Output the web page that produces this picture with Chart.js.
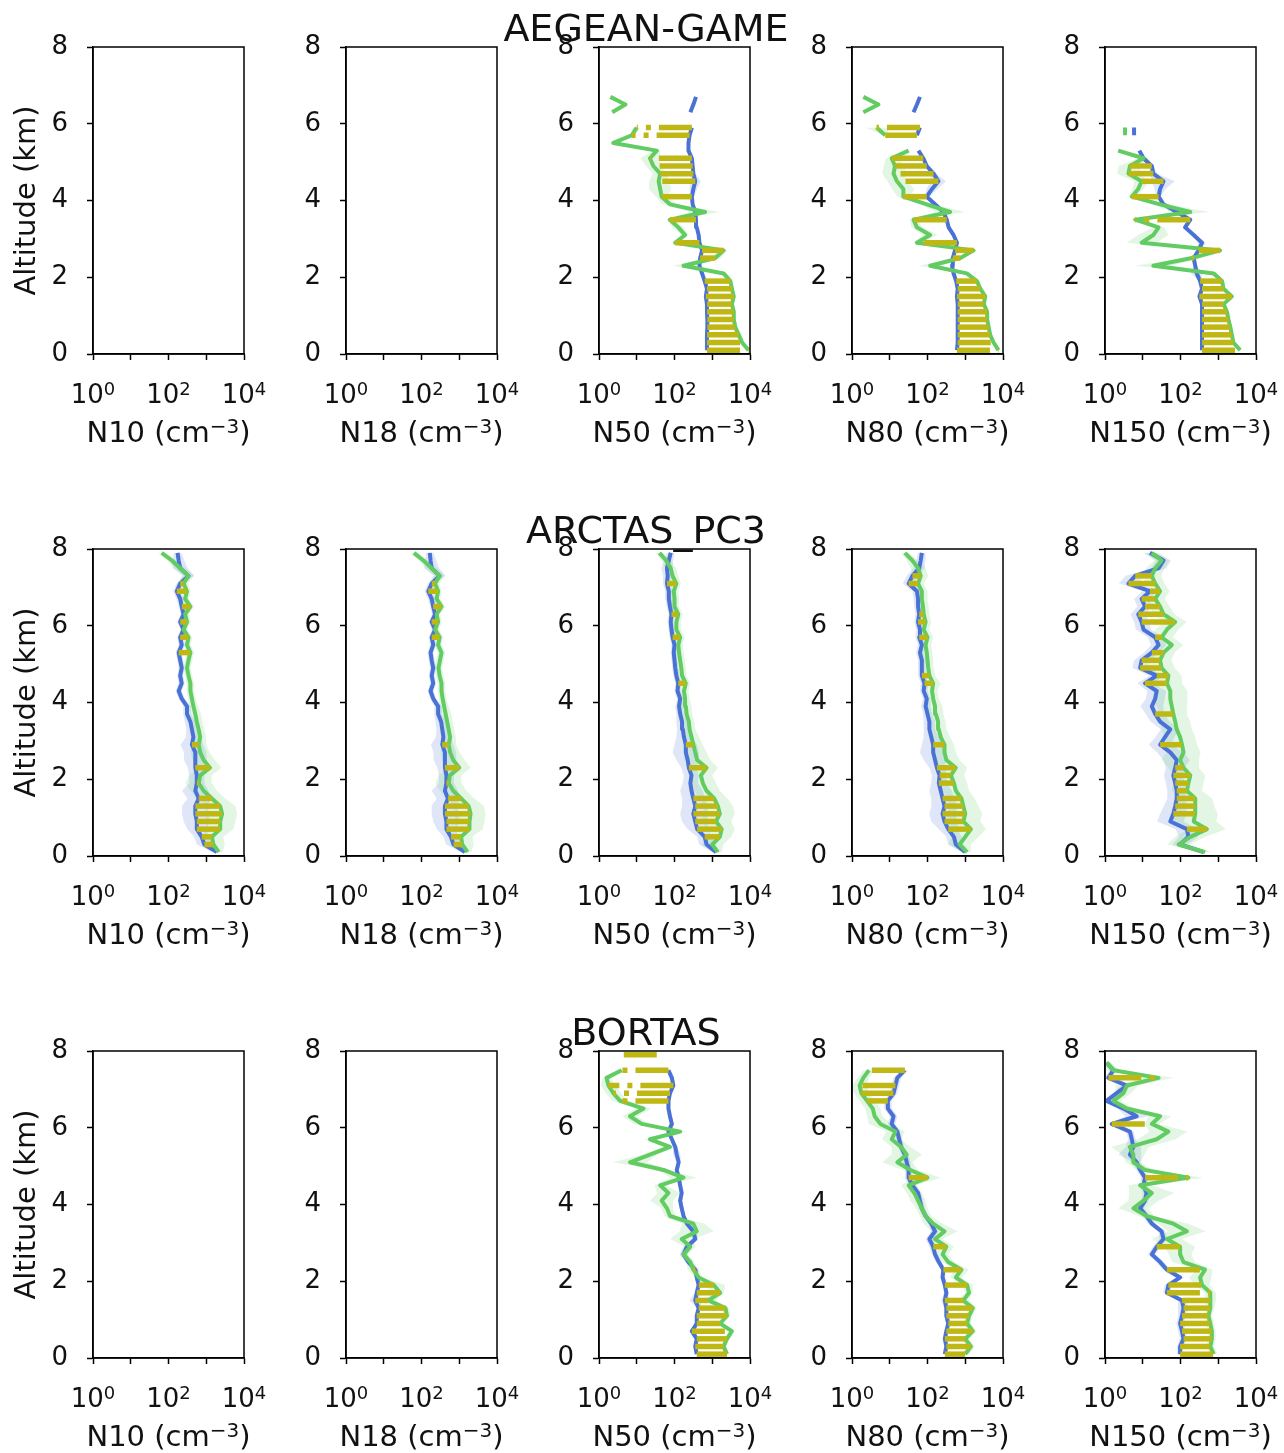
<!DOCTYPE html>
<html>
<head>
<meta charset="utf-8">
<script src="https://cdn.jsdelivr.net/npm/chart.js@4.4.1/dist/chart.umd.min.js"></script>
<style>
  body { margin: 0; width: 1284px; height: 1453px; position: relative; overflow: hidden; background: #fff; }
  canvas { position: absolute; }
  .rowtitle { position: absolute; left: 0; width: 1292px; text-align: center; font-family: 'DejaVu Sans'; font-size: 38px; line-height: 38px; color: #111; z-index: 5; }
</style>
</head>
<body>
<script>
// altitude bins (km), values below are log10 of the concentration (cm-3), null = no data
var altitude = [0.1, 0.3, 0.5, 0.7, 0.9, 1.1, 1.3, 1.5, 1.7, 1.9, 2.1, 2.3, 2.5, 2.7, 2.9, 3.1, 3.3, 3.5, 3.7, 3.9,
    4.1, 4.3, 4.5, 4.7, 4.9, 5.1, 5.3, 5.5, 5.7, 5.9, 6.1, 6.3, 6.5, 6.7, 6.9, 7.1, 7.3, 7.5, 7.7, 7.9];
var campaigns = ['AEGEAN-GAME', 'ARCTAS_PC3', 'BORTAS'];
var variables = ['N10', 'N18', 'N50', 'N80', 'N150'];
var xTickValues = [1, 10, 100, 1000, 10000];
var xTickExponents = {1: '0', 100: '2', 10000: '4'};

// ---- AEGEAN-GAME ----
var aegN50Blue = [2.86,2.86,2.86,2.87,2.87,2.86,2.86,2.83,2.86,2.80,
    2.73,2.66,2.68,2.73,2.66,2.64,2.59,2.57,2.55,2.48,
    2.46,2.50,2.55,2.50,2.48,2.46,2.37,2.37,2.40,2.46,
    null,2.42,2.50,2.57,null,null,null,null,null,null];
var aegN50Green = [3.96,3.79,3.70,3.61,3.57,3.57,3.52,3.57,3.52,3.48,
    3.30,2.24,3.08,3.30,2.02,2.28,2.10,1.88,2.81,1.88,
    1.66,1.62,1.58,1.62,1.44,1.35,1.53,0.38,0.87,1.00,
    null,0.35,0.70,0.30,null,null,null,null,null,null];
var aegN50BlueSd = [0.03,0.03,0.03,0.03,0.03,0.03,0.03,0.03,0.03,0.03,
    0.04,0.04,0.04,0.04,0.04,0.04,0.04,0.04,0.06,0.04,
    0.05,0.10,0.15,0.06,0.04,0.04,0.04,0.04,0.04,0.04,
    0,0.03,0.03,0.03,0,0,0,0,0,0];
var aegN50GreenSd = [0.05,0.05,0.10,0.05,0.05,0.05,0.05,0.05,0.05,0.05,
    0.10,0.30,0.15,0.10,0.10,0.10,0.15,0.10,0.40,0.20,
    0.15,0.30,0.25,0.20,0.20,0.25,0.10,0.10,0.05,0.10,
    0,0.03,0.03,0.03,0,0,0,0,0,0];
var aegN50Bars = [0.1,0.3,0.5,0.7,0.9,1.1,1.3,1.5,1.7,1.9,2.5,2.7,2.9,3.5,4.1,4.5,4.7,4.9,5.1,5.7,5.9];

var aegN80Blue = [2.78,2.80,2.80,2.80,2.80,2.80,2.80,2.78,2.80,2.76,
    2.69,2.65,2.67,2.73,2.78,2.69,2.56,2.51,2.42,2.20,
    1.98,2.12,2.29,2.16,1.98,1.89,1.76,null,1.72,1.80,
    null,1.63,1.72,1.80,null,null,null,null,null,null];
var aegN80Green = [3.88,3.75,3.66,3.62,3.58,3.58,3.49,3.53,3.40,3.31,
    3.04,2.07,2.87,3.22,1.72,2.07,1.72,1.63,2.60,1.98,
    1.36,1.36,1.19,1.10,1.14,1.05,1.50,null,0.88,0.65,
    null,0.30,0.70,0.30,null,null,null,null,null,null];
var aegN80BlueSd = [0.03,0.03,0.03,0.03,0.03,0.03,0.03,0.03,0.03,0.03,
    0.04,0.04,0.04,0.04,0.04,0.04,0.04,0.04,0.05,0.05,
    0.06,0.15,0.20,0.08,0.05,0.04,0.04,0,0.03,0.03,
    0,0.03,0.03,0.03,0,0,0,0,0,0];
var aegN80GreenSd = [0.05,0.05,0.05,0.05,0.05,0.05,0.05,0.05,0.05,0.05,
    0.10,0.30,0.10,0.10,0.10,0.20,0.15,0.10,0.40,0.15,
    0.15,0.30,0.25,0.30,0.30,0.15,0.10,0,0.05,0.30,
    0,0.03,0.03,0.03,0,0,0,0,0,0];
var aegN80Bars = [0.1,0.3,0.5,0.7,0.9,1.1,1.3,1.5,1.7,1.9,2.5,2.7,2.9,3.5,4.1,4.5,4.7,4.9,5.1,5.7,5.9];

var aegN150Blue = [2.57,2.57,2.57,2.57,2.57,2.57,2.57,2.50,2.57,2.52,
    2.43,2.39,2.35,2.48,2.57,2.35,2.12,2.26,1.90,1.55,
    1.42,1.46,1.55,1.28,1.24,1.02,0.91,null,0.77,0.77,
    null,null,null,null,null,null,null,null,null,null];
var aegN150Green = [3.58,3.40,3.36,3.32,3.27,3.23,3.14,3.36,3.14,3.10,
    2.88,1.28,2.30,3.05,0.97,1.28,1.42,0.80,2.26,1.46,
    0.71,0.88,0.97,0.62,0.66,1.02,0.35,null,0.53,0.53,
    null,null,null,null,null,null,null,null,null,null];
var aegN150BlueSd = [0.03,0.03,0.03,0.03,0.03,0.03,0.03,0.03,0.03,0.03,
    0.15,0.05,0.05,0.05,0.10,0.05,0.05,0.05,0.05,0.05,
    0.05,0.15,0.30,0.10,0.05,0.05,0.05,0,0.03,0.03,
    0,0,0,0,0,0,0,0,0,0];
var aegN150GreenSd = [0.05,0.05,0.05,0.05,0.05,0.05,0.05,0.05,0.05,0.05,
    0.10,0.50,0.20,0.10,0.40,0.40,0.15,0.10,0.50,0.20,
    0.10,0.15,0.20,0.30,0.30,0.15,0.10,0,0.03,0.03,
    0,0,0,0,0,0,0,0,0,0];
var aegN150Bars = [0.1,0.3,0.5,0.7,0.9,1.1,1.3,1.5,1.7,1.9,2.5,2.7,3.5,4.1,4.5,4.7,4.9];

// ---- ARCTAS_PC3 ----
var arcN10Blue = [3.28,2.95,2.88,2.75,2.75,2.71,2.71,2.80,2.71,2.75,
    2.75,2.71,2.71,2.71,2.62,2.66,2.62,2.58,2.49,2.49,
    2.35,2.27,2.35,2.31,2.35,2.31,2.27,2.35,2.31,2.40,
    2.31,2.40,2.35,2.31,2.22,2.31,2.53,2.31,2.27,2.24];
var arcN10Green = [3.33,3.19,3.15,3.37,3.37,3.42,3.37,3.15,2.93,2.80,
    2.84,3.10,2.93,2.84,2.80,2.84,2.80,2.75,2.71,2.66,
    2.62,2.58,2.58,2.53,2.49,2.53,2.58,2.49,2.53,2.40,
    2.49,2.44,2.58,2.44,2.49,2.40,2.53,2.31,2.09,1.82];
var arcN10BlueSd = [0.10,0.20,0.20,0.25,0.35,0.35,0.35,0.30,0.35,0.20,
    0.20,0.20,0.30,0.30,0.30,0.20,0.15,0.15,0.10,0.10,
    0.08,0.08,0.08,0.08,0.08,0.08,0.08,0.08,0.08,0.08,
    0.08,0.08,0.08,0.10,0.10,0.10,0.15,0.20,0.15,0.10];
var arcN10GreenSd = [0.10,0.30,0.30,0.35,0.40,0.40,0.40,0.35,0.35,0.35,
    0.30,0.30,0.30,0.25,0.20,0.15,0.15,0.15,0.15,0.12,
    0.10,0.10,0.10,0.10,0.10,0.10,0.10,0.10,0.10,0.10,
    0.10,0.10,0.10,0.10,0.10,0.12,0.15,0.15,0.12,0.10];
var arcN10Bars = [0.3,0.5,0.7,0.9,1.1,1.3,1.5,1.9,2.3,2.9,5.3,5.7,6.1,6.5,6.9,7.1];

var arcN18Blue = [3.15,2.85,2.78,2.66,2.66,2.62,2.62,2.70,2.62,2.66,
    2.66,2.62,2.62,2.62,2.55,2.58,2.55,2.52,2.44,2.44,
    2.31,2.24,2.31,2.27,2.31,2.27,2.24,2.31,2.27,2.36,
    2.27,2.36,2.31,2.27,2.18,2.27,2.48,2.27,2.24,2.22];
var arcN18Green = [3.22,3.08,3.05,3.27,3.27,3.30,3.25,3.05,2.84,2.72,
    2.75,3.00,2.84,2.76,2.72,2.76,2.72,2.68,2.64,2.60,
    2.56,2.53,2.53,2.48,2.45,2.49,2.53,2.44,2.48,2.36,
    2.44,2.40,2.53,2.40,2.44,2.36,2.48,2.27,2.05,1.80];
var arcN18BlueSd = [0.10,0.20,0.20,0.25,0.35,0.35,0.35,0.30,0.35,0.20,
    0.20,0.20,0.30,0.30,0.30,0.20,0.15,0.15,0.10,0.10,
    0.08,0.08,0.08,0.08,0.08,0.08,0.08,0.08,0.08,0.08,
    0.08,0.08,0.08,0.10,0.10,0.10,0.15,0.20,0.15,0.10];
var arcN18GreenSd = [0.10,0.30,0.30,0.35,0.40,0.40,0.40,0.35,0.35,0.35,
    0.30,0.30,0.30,0.25,0.20,0.15,0.15,0.15,0.15,0.12,
    0.10,0.10,0.10,0.10,0.10,0.10,0.10,0.10,0.10,0.10,
    0.10,0.10,0.10,0.10,0.10,0.12,0.15,0.15,0.12,0.10];
var arcN18Bars = [0.3,0.5,0.7,0.9,1.1,1.3,1.5,1.9,2.3,2.9,5.7,6.1,6.5,6.9,7.1];

var arcN50Blue = [3.10,2.85,2.80,2.60,2.55,2.50,2.55,2.50,2.45,2.42,
    2.45,2.38,2.35,2.30,2.30,2.25,2.22,2.20,2.15,2.12,
    2.15,2.08,2.10,2.05,2.02,2.00,1.98,2.00,1.95,1.92,
    1.90,1.92,1.88,1.85,1.85,1.80,1.82,1.80,1.85,1.90];
var arcN50Green = [3.15,3.00,3.20,3.25,3.10,3.20,3.15,3.05,2.85,2.75,
    2.70,2.85,2.60,2.55,2.50,2.45,2.40,2.38,2.32,2.30,
    2.28,2.25,2.30,2.20,2.18,2.15,2.12,2.10,2.15,2.05,
    2.05,2.10,2.00,2.00,1.98,2.05,1.95,1.90,1.78,1.60];
var arcN50BlueSd = [0.10,0.20,0.20,0.25,0.35,0.35,0.35,0.30,0.30,0.20,
    0.20,0.20,0.30,0.35,0.30,0.20,0.15,0.15,0.10,0.10,
    0.08,0.08,0.08,0.08,0.08,0.08,0.08,0.08,0.08,0.08,
    0.08,0.08,0.08,0.10,0.10,0.10,0.12,0.15,0.12,0.10];
var arcN50GreenSd = [0.10,0.30,0.30,0.35,0.40,0.40,0.40,0.35,0.35,0.35,
    0.30,0.30,0.35,0.30,0.25,0.20,0.15,0.15,0.15,0.15,
    0.12,0.12,0.12,0.12,0.12,0.12,0.12,0.12,0.12,0.12,
    0.12,0.12,0.12,0.12,0.12,0.12,0.15,0.15,0.12,0.10];
var arcN50Bars = [0.5,0.7,0.9,1.1,1.3,1.5,2.3,2.9,4.5,5.7,6.3,7.1];

var arcN80Blue = [3.00,2.75,2.70,2.55,2.45,2.40,2.45,2.40,2.35,2.30,
    2.32,2.25,2.20,2.15,2.15,2.10,2.05,2.05,2.00,1.95,
    1.98,1.90,1.92,1.85,1.85,1.85,1.80,1.85,1.78,1.80,
    1.75,1.78,1.75,1.75,1.72,1.50,1.60,1.78,1.82,1.85];
var arcN80Green = [3.05,2.85,3.00,3.15,2.95,3.00,2.95,2.90,2.75,2.70,
    2.62,2.75,2.50,2.45,2.45,2.35,2.30,2.28,2.22,2.20,
    2.15,2.12,2.15,2.05,2.02,2.00,1.98,1.95,2.00,1.90,
    1.95,1.90,1.88,1.85,1.85,1.75,1.82,1.75,1.60,1.40];
var arcN80BlueSd = [0.10,0.20,0.20,0.25,0.35,0.35,0.35,0.30,0.30,0.20,
    0.20,0.20,0.30,0.35,0.30,0.20,0.15,0.15,0.12,0.12,
    0.10,0.10,0.10,0.10,0.10,0.10,0.10,0.10,0.10,0.10,
    0.10,0.10,0.10,0.12,0.12,0.15,0.15,0.15,0.12,0.10];
var arcN80GreenSd = [0.10,0.30,0.35,0.40,0.45,0.45,0.40,0.35,0.35,0.35,
    0.35,0.30,0.35,0.30,0.25,0.25,0.20,0.20,0.20,0.20,
    0.15,0.15,0.20,0.15,0.15,0.15,0.15,0.15,0.15,0.15,
    0.15,0.15,0.15,0.15,0.15,0.15,0.20,0.20,0.15,0.10];
var arcN80Bars = [0.7,0.9,1.1,1.3,1.5,1.9,2.1,2.3,2.9,4.5,4.7,5.7,6.1,6.3,7.1,7.3];

var arcN150Blue = [2.61,1.99,2.21,2.17,1.73,1.81,1.86,1.90,1.90,1.86,
    1.81,1.86,1.90,1.73,1.46,1.59,1.73,1.46,1.33,1.24,
    1.33,1.37,1.06,1.37,0.93,0.97,1.24,1.42,1.33,1.02,
    0.97,0.88,1.06,0.97,1.19,0.62,0.80,1.42,1.55,1.19];
var arcN150Green = [2.65,1.95,2.26,2.70,2.35,2.39,2.39,2.39,2.17,2.21,
    2.26,2.08,1.99,2.08,2.04,1.99,1.90,1.86,1.81,1.77,
    1.73,1.73,1.64,1.68,1.50,1.46,1.55,1.77,1.50,1.64,
    1.86,1.55,1.46,1.33,1.46,1.33,1.24,1.33,1.50,1.24];
var arcN150BlueSd = [0.15,0.20,0.25,0.30,0.35,0.35,0.30,0.25,0.25,0.25,
    0.25,0.25,0.35,0.35,0.30,0.25,0.25,0.25,0.25,0.30,
    0.25,0.25,0.20,0.20,0.20,0.20,0.20,0.20,0.20,0.20,
    0.20,0.20,0.20,0.20,0.20,0.25,0.25,0.20,0.20,0.15];
var arcN150GreenSd = [0.20,0.30,0.40,0.50,0.60,0.60,0.50,0.45,0.40,0.40,
    0.40,0.40,0.50,0.45,0.40,0.40,0.40,0.40,0.35,0.40,
    0.45,0.45,0.40,0.35,0.35,0.30,0.30,0.30,0.30,0.30,
    0.30,0.30,0.25,0.25,0.25,0.25,0.25,0.25,0.20,0.20];
var arcN150Bars = [0.7,1.1,1.3,1.5,1.7,1.9,2.1,2.3,2.9,3.7,4.5,4.7,4.9,5.1,5.3,5.7,6.1,6.3,6.5,6.7,6.9,7.1,7.3];

// ---- BORTAS ----
var borN50Blue = [2.59,2.55,2.59,2.46,2.59,2.59,2.64,2.55,2.59,2.64,
    2.59,2.55,2.37,2.24,2.33,2.55,2.50,2.33,2.24,2.19,
    2.15,2.19,2.15,2.11,2.06,2.11,2.06,2.02,1.93,1.84,
    1.93,1.88,1.84,1.84,1.88,1.97,1.93,1.84,null,1.53];
var borN50Green = [3.39,3.30,3.39,3.52,3.21,3.39,3.35,2.90,3.21,3.04,
    2.64,2.50,2.42,2.24,2.42,2.19,2.59,2.50,1.88,1.80,
    1.66,1.84,1.62,2.24,1.71,0.82,1.35,1.88,1.35,2.15,
    1.13,0.82,1.18,0.56,0.38,0.25,0.20,0.60,null,0.47];
var borN50BlueSd = [0.05,0.05,0.05,0.08,0.05,0.05,0.05,0.15,0.05,0.05,
    0.05,0.08,0.08,0.10,0.10,0.08,0.08,0.05,0.05,0.05,
    0.05,0.05,0.05,0.05,0.05,0.05,0.10,0.05,0.05,0.05,
    0.05,0.05,0.05,0.05,0.05,0.05,0.05,0.05,0,0];
var borN50GreenSd = [0.07,0.07,0.07,0.07,0.07,0.10,0.10,0.20,0.10,0.30,
    0.10,0.15,0.10,0.10,0.15,0.30,0.45,0.30,0.15,0.15,
    0.30,0.30,0.15,0.35,0.15,0.45,0.20,0.15,0.15,0.15,
    0.20,0.20,0.20,0.20,0.20,0.20,0.10,0.10,0,0];
var borN50Bars = [0.1,0.3,0.5,0.7,0.9,1.1,1.3,1.5,1.7,1.9,2.3,6.7,6.9,7.1,7.5,7.9];

var borN80Blue = [2.46,2.50,2.46,2.50,2.55,2.50,2.50,2.46,2.50,2.46,
    2.40,2.42,2.30,2.20,2.15,2.05,2.20,2.10,1.95,1.85,
    1.80,1.75,1.60,1.50,1.50,1.45,1.40,1.30,1.25,1.20,
    1.05,1.10,0.95,0.95,1.10,1.15,1.20,1.40,null,null];
var borN80Green = [3.00,3.15,3.00,3.20,3.05,3.10,3.20,2.95,3.10,3.05,
    2.75,2.90,2.55,2.40,2.50,2.20,2.45,2.15,1.95,1.85,
    1.75,1.65,1.50,2.00,1.55,1.20,1.45,1.30,1.05,1.15,
    0.75,0.60,0.55,0.40,0.25,0.20,0.30,0.45,null,null];
var borN80BlueSd = [0.06,0.06,0.06,0.06,0.06,0.06,0.06,0.10,0.06,0.06,
    0.06,0.06,0.08,0.08,0.10,0.10,0.10,0.08,0.08,0.08,
    0.08,0.08,0.10,0.10,0.08,0.10,0.10,0.08,0.08,0.08,
    0.10,0.10,0.10,0.10,0.10,0.10,0.10,0.10,0,0];
var borN80GreenSd = [0.10,0.10,0.10,0.10,0.10,0.10,0.10,0.15,0.10,0.15,
    0.15,0.20,0.15,0.15,0.20,0.20,0.35,0.25,0.15,0.15,
    0.20,0.20,0.20,0.35,0.20,0.40,0.40,0.25,0.25,0.25,
    0.30,0.20,0.20,0.20,0.20,0.20,0.15,0.15,0,0];
var borN80Bars = [0.1,0.3,0.5,0.7,0.9,1.1,1.3,1.5,1.9,2.3,2.9,4.7,6.7,6.9,7.1,7.5];

var borN150Blue = [1.99,1.99,2.08,2.04,1.99,2.04,2.08,2.04,1.64,1.68,
    1.99,1.64,1.46,1.24,1.37,1.55,1.50,1.24,1.10,0.93,
    1.06,1.10,1.02,1.06,0.93,0.84,0.66,0.75,0.71,0.66,
    0.18,0.84,0.49,0.04,0.31,0.58,0.09,0.22,0.04,null];
var borN150Green = [2.88,2.79,2.83,2.83,2.79,2.74,2.79,2.79,2.79,2.57,
    2.52,2.65,2.08,1.99,1.99,1.64,2.17,1.81,1.10,0.75,
    1.02,1.24,0.93,2.21,1.06,0.75,0.75,0.66,1.37,1.68,
    1.24,1.46,0.58,0.22,0.49,0.58,1.42,0.22,0.05,null];
var borN150BlueSd = [0.08,0.08,0.10,0.10,0.10,0.10,0.15,0.10,0.10,0.10,
    0.10,0.10,0.10,0.10,0.10,0.10,0.10,0.10,0.10,0.10,
    0.10,0.10,0.10,0.10,0.10,0.10,0.30,0.20,0.10,0.10,
    0.10,0.30,0.15,0.10,0.10,0.15,0.10,0.10,0.10,0];
var borN150GreenSd = [0.10,0.10,0.10,0.10,0.10,0.10,0.10,0.15,0.15,0.20,
    0.30,0.20,0.30,0.30,0.40,0.40,0.50,0.40,0.20,0.40,
    0.40,0.60,0.30,0.40,0.20,0.20,0.30,0.50,0.50,0.50,
    0.20,0.30,0.20,0.20,0.20,0.30,0.40,0.20,0.10,0];
var borN150Bars = [0.1,0.3,0.5,0.7,0.9,1.1,1.3,1.5,1.7,1.9,2.3,2.9,4.7,6.1,7.3];

// one row per campaign, one entry per variable (null = no measurement)
var rows = [
    [null, null,
        {blue: aegN50Blue, green: aegN50Green, blueSd: aegN50BlueSd, greenSd: aegN50GreenSd, bars: aegN50Bars},
        {blue: aegN80Blue, green: aegN80Green, blueSd: aegN80BlueSd, greenSd: aegN80GreenSd, bars: aegN80Bars},
        {blue: aegN150Blue, green: aegN150Green, blueSd: aegN150BlueSd, greenSd: aegN150GreenSd, bars: aegN150Bars}],
    [{blue: arcN10Blue, green: arcN10Green, blueSd: arcN10BlueSd, greenSd: arcN10GreenSd, bars: arcN10Bars},
        {blue: arcN18Blue, green: arcN18Green, blueSd: arcN18BlueSd, greenSd: arcN18GreenSd, bars: arcN18Bars},
        {blue: arcN50Blue, green: arcN50Green, blueSd: arcN50BlueSd, greenSd: arcN50GreenSd, bars: arcN50Bars},
        {blue: arcN80Blue, green: arcN80Green, blueSd: arcN80BlueSd, greenSd: arcN80GreenSd, bars: arcN80Bars},
        {blue: arcN150Blue, green: arcN150Green, blueSd: arcN150BlueSd, greenSd: arcN150GreenSd, bars: arcN150Bars}],
    [null, null,
        {blue: borN50Blue, green: borN50Green, blueSd: borN50BlueSd, greenSd: borN50GreenSd, bars: borN50Bars},
        {blue: borN80Blue, green: borN80Green, blueSd: borN80BlueSd, greenSd: borN80GreenSd, bars: borN80Bars},
        {blue: borN150Blue, green: borN150Green, blueSd: borN150BlueSd, greenSd: borN150GreenSd, bars: borN150Bars}]
];

var BLUE = '#4a72d6';
var GREEN = '#62cc62';
var YELLOW = '#bfb814';
var BLUE_BAND = 'rgba(74,114,214,0.18)';
var GREEN_BAND = 'rgba(98,204,98,0.18)';

var colLeft = [93, 346, 599, 852, 1105];
var rowTop = [47, 549, 1051];

Chart.defaults.font.family = 'DejaVu Sans';
Chart.defaults.color = '#111';

function profile(vals) {
    return altitude.map(function (a, i) {
        return {x: vals[i] == null ? null : Math.pow(10, vals[i]), y: a};
    });
}

function edge(vals, sd, side) {
    return altitude.map(function (a, i) {
        return {x: vals[i] == null ? null : Math.pow(10, vals[i] + side * sd[i]), y: a};
    });
}

function makeDatasets(p) {
    if (!p) return [];
    var ds = [];
    ds.push({data: edge(p.blue, p.blueSd, -1), borderWidth: 0, fill: false, order: 4});
    ds.push({data: edge(p.blue, p.blueSd, 1), borderWidth: 0, fill: '-1', backgroundColor: BLUE_BAND, order: 4});
    ds.push({data: edge(p.green, p.greenSd, -1), borderWidth: 0, fill: false, order: 3});
    ds.push({data: edge(p.green, p.greenSd, 1), borderWidth: 0, fill: '-1', backgroundColor: GREEN_BAND, order: 3});
    ds.push({data: profile(p.blue), borderColor: BLUE, borderWidth: 4, fill: false, order: 2});
    ds.push({data: profile(p.green), borderColor: GREEN, borderWidth: 4, fill: false, order: 1});
    p.bars.forEach(function (a) {
        var i = altitude.indexOf(a);
        if (i < 0 || p.blue[i] == null || p.green[i] == null) return;
        ds.push({
            data: [{x: Math.pow(10, p.blue[i]), y: a}, {x: Math.pow(10, p.green[i]), y: a}],
            borderColor: YELLOW, borderWidth: 5.5, borderDash: [33, 8, 5, 8], borderCapStyle: 'butt',
            fill: false, order: 0
        });
    });
    return ds;
}

// text made of normal and raised (superscript) pieces, like matplotlib's mathtext
function drawSupText(ctx, parts, cx, baseline, size) {
    var sub = Math.round(size * 0.7);
    var total = 0;
    parts.forEach(function (p) {
        ctx.font = (p.sup ? sub : size) + 'px "DejaVu Sans"';
        p.w = ctx.measureText(p.t).width;
        total += p.w;
    });
    var x = cx - total / 2;
    ctx.textAlign = 'left';
    ctx.textBaseline = 'alphabetic';
    parts.forEach(function (p) {
        ctx.font = (p.sup ? sub : size) + 'px "DejaVu Sans"';
        ctx.fillText(p.t, x, p.sup ? baseline - size * 0.32 : baseline);
        x += p.w;
    });
}

var frame = {
    id: 'frame',
    afterDraw: function (chart, args, opts) {
        var a = chart.chartArea, c = chart.ctx, xs = chart.scales.x;
        c.save();
        c.strokeStyle = '#000';
        c.lineWidth = 1.5;
        c.strokeRect(a.left, a.top, a.right - a.left, a.bottom - a.top);
        c.fillStyle = '#111';
        xTickValues.forEach(function (v) {
            if (xTickExponents[v] == null) return;
            drawSupText(c, [{t: '10'}, {t: xTickExponents[v], sup: true}], xs.getPixelForValue(v), a.bottom + 49, 26);
        });
        drawSupText(c, [{t: opts.name + ' (cm'}, {t: '−3', sup: true}, {t: ')'}], (a.left + a.right) / 2, a.bottom + 88, 29);
        c.restore();
    }
};

var axisLine = {display: true, drawOnChartArea: false, drawTicks: true, tickLength: 6, tickWidth: 1.5, tickColor: '#000', color: '#000'};

campaigns.forEach(function (name, r) {
    var t = document.createElement('div');
    t.className = 'rowtitle';
    t.style.top = (rowTop[r] - 38) + 'px';
    t.textContent = name;
    document.body.appendChild(t);

    variables.forEach(function (v, c) {
        var canvas = document.createElement('canvas');
        canvas.width = 274;
        canvas.height = 430;
        canvas.style.left = (colLeft[c] - 93) + 'px';
        canvas.style.top = (rowTop[r] - 30) + 'px';
        document.body.appendChild(canvas);

        new Chart(canvas, {
            type: 'line',
            data: {datasets: makeDatasets(rows[r][c])},
            options: {
                indexAxis: 'y',
                responsive: false,
                animation: false,
                events: [],
                layout: {padding: {left: 0, top: 30, right: 30, bottom: 0}},
                plugins: {legend: {display: false}, tooltip: {enabled: false}, frame: {name: v}},
                elements: {point: {radius: 0, hoverRadius: 0}, line: {tension: 0, borderJoinStyle: 'round'}},
                scales: {
                    x: {
                        type: 'logarithmic', position: 'bottom', min: 1, max: 10000,
                        afterBuildTicks: function (s) {
                            s.ticks = xTickValues.map(function (val) { return {value: val}; });
                        },
                        afterFit: function (s) { s.height = 93; s.paddingLeft = 0; s.paddingRight = 0; },
                        ticks: {
                            autoSkip: false, maxRotation: 0, minRotation: 0,
                            callback: function () { return ''; }
                        },
                        grid: axisLine,
                        border: {display: true, color: '#000', width: 1.5}
                    },
                    y: {
                        type: 'linear', position: 'left', min: 0, max: 8,
                        afterFit: function (s) { s.width = 93; s.paddingTop = 0; s.paddingBottom = 0; },
                        ticks: {stepSize: 2, padding: 19, font: {size: 26}, color: '#111'},
                        grid: axisLine,
                        border: {display: true, color: '#000', width: 1.5},
                        title: {display: c === 0, text: 'Altitude (km)', font: {size: 29}, color: '#111', padding: {top: 10, bottom: 0}}
                    }
                }
            },
            plugins: [frame]
        });
    });
});
</script>
</body>
</html>
